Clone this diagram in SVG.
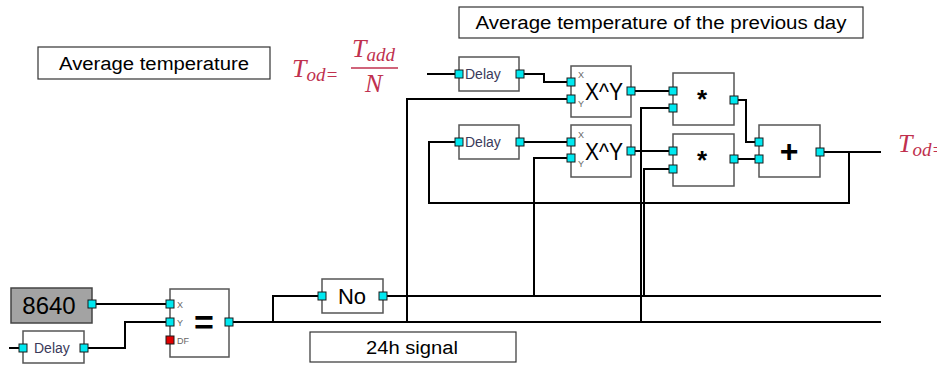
<svg xmlns="http://www.w3.org/2000/svg" width="937" height="367" viewBox="0 0 937 367">
<style>
.box{fill:#fff;stroke:#555;stroke-width:1.5}
.lbl{fill:#fff;stroke:#333;stroke-width:1.2}
.port{fill:#00e8f0;stroke:#1a1a1a;stroke-width:1}
.df{fill:#e00000;stroke:#1a1a1a;stroke-width:1}
.w{fill:none;stroke:#000;stroke-width:2}
.t{font-family:"Liberation Sans",Arial,sans-serif;fill:#000}
.dl{font-family:"Liberation Sans",Arial,sans-serif;font-size:14px;fill:#3a3a5a}
.sm{font-family:"Liberation Sans",Arial,sans-serif;font-size:9px;fill:#666}
.m{font-family:"Liberation Serif","Times New Roman",serif;font-style:italic;fill:#c0304e}
</style>
<rect width="937" height="367" fill="#fff"/>
<g id="connectors">
<path class="w" d="M427,74H455"/>
<path class="w" d="M524,74H544V82H567"/>
<path class="w" d="M407,322V99H567"/>
<path class="w" d="M635,91H669"/>
<path class="w" d="M669,108H641V322"/>
<path class="w" d="M738,100H746V142H755"/>
<path class="w" d="M849,152V203H429V142H455"/>
<path class="w" d="M524,142H567"/>
<path class="w" d="M534,296V158H567"/>
<path class="w" d="M635,151H669"/>
<path class="w" d="M669,169H644V296"/>
<path class="w" d="M738,159H755"/>
<path class="w" d="M824,152H881"/>
<path class="w" d="M96,304H166"/>
<path class="w" d="M9,348H19"/>
<path class="w" d="M88,348H125V322H166"/>
<path class="w" d="M233,322H881"/>
<path class="w" d="M273,322V296H318"/>
<path class="w" d="M387,296H881"/>
</g>
<g id="label-avg">
<rect class="lbl" x="38" y="47" width="232" height="32"/>
<text class="t" x="154" y="70" font-size="18" text-anchor="middle" textLength="190" lengthAdjust="spacingAndGlyphs">Average temperature</text>
</g>
<g id="label-prev">
<rect class="lbl" x="459" y="7" width="404" height="31"/>
<text class="t" x="661" y="29" font-size="18" text-anchor="middle" textLength="371" lengthAdjust="spacingAndGlyphs">Average temperature of the previous day</text>
</g>
<g id="label-24h">
<rect class="lbl" x="310" y="332" width="206" height="30"/>
<text class="t" x="412" y="354" font-size="18" text-anchor="middle" textLength="92" lengthAdjust="spacingAndGlyphs">24h signal</text>
</g>
<g id="formula">
<text class="m" x="292" y="77" font-size="26">T<tspan font-size="19" dy="4">od=</tspan></text>
<text class="m" x="352" y="57" font-size="26">T<tspan font-size="19" dy="4">add</tspan></text>
<line x1="351" y1="68" x2="398" y2="68" stroke="#c0304e" stroke-width="1.3"/>
<text class="m" x="365" y="92" font-size="26">N</text>
</g>
<g id="formula-out">
<text class="m" x="898" y="152" font-size="26">T<tspan font-size="19" dy="4">od=</tspan></text>
</g>
<g id="delay1">
<rect class="box" x="459" y="57" width="60" height="34"/>
<text class="dl" x="465" y="79">Delay</text>
<rect class="port" x="455" y="70" width="8" height="8"/>
<rect class="port" x="516" y="70" width="8" height="8"/>
</g>
<g id="pow1">
<rect class="box" x="571" y="66" width="60" height="51"/>
<text class="t" x="604" y="100" font-size="23" text-anchor="middle" textLength="38" lengthAdjust="spacingAndGlyphs">X^Y</text>
<text class="sm" x="578" y="78">X</text>
<text class="sm" x="578" y="107">Y</text>
<rect class="port" x="567" y="78" width="8" height="8"/>
<rect class="port" x="567" y="95" width="8" height="8"/>
<rect class="port" x="627" y="87" width="8" height="8"/>
</g>
<g id="mult1">
<rect class="box" x="673" y="73" width="61" height="52"/>
<text class="t" x="702" y="108" font-size="26" font-weight="bold" text-anchor="middle">*</text>
<rect class="port" x="669" y="87" width="8" height="8"/>
<rect class="port" x="669" y="104" width="8" height="8"/>
<rect class="port" x="730" y="96" width="8" height="8"/>
</g>
<g id="delay2">
<rect class="box" x="459" y="125" width="60" height="34"/>
<text class="dl" x="465" y="147">Delay</text>
<rect class="port" x="455" y="138" width="8" height="8"/>
<rect class="port" x="516" y="138" width="8" height="8"/>
</g>
<g id="pow2">
<rect class="box" x="571" y="125" width="60" height="52"/>
<text class="t" x="604" y="160" font-size="23" text-anchor="middle" textLength="38" lengthAdjust="spacingAndGlyphs">X^Y</text>
<text class="sm" x="578" y="138">X</text>
<text class="sm" x="578" y="167">Y</text>
<rect class="port" x="567" y="138" width="8" height="8"/>
<rect class="port" x="567" y="154" width="8" height="8"/>
<rect class="port" x="627" y="147" width="8" height="8"/>
</g>
<g id="mult2">
<rect class="box" x="673" y="134" width="61" height="52"/>
<text class="t" x="702" y="169" font-size="26" font-weight="bold" text-anchor="middle">*</text>
<rect class="port" x="669" y="147" width="8" height="8"/>
<rect class="port" x="669" y="165" width="8" height="8"/>
<rect class="port" x="730" y="155" width="8" height="8"/>
</g>
<g id="plus">
<rect class="box" x="759" y="125" width="61" height="52"/>
<text class="t" x="789" y="162" font-size="32" font-weight="bold" text-anchor="middle">+</text>
<rect class="port" x="755" y="138" width="8" height="8"/>
<rect class="port" x="755" y="155" width="8" height="8"/>
<rect class="port" x="816" y="148" width="8" height="8"/>
</g>
<g id="const8640">
<rect x="11" y="288" width="81" height="35" fill="#a3a3a3" stroke="#444" stroke-width="1.5"/>
<text class="t" x="49" y="314" font-size="24" text-anchor="middle" fill="#111">8640</text>
<rect class="port" x="88" y="300" width="8" height="8"/>
</g>
<g id="delay3">
<rect class="box" x="23" y="331" width="61" height="32"/>
<text class="dl" x="34" y="353">Delay</text>
<rect class="port" x="19" y="344" width="8" height="8"/>
<rect class="port" x="80" y="344" width="8" height="8"/>
</g>
<g id="equal">
<rect class="box" x="170" y="289" width="59" height="68"/>
<text class="t" x="204" y="334" font-size="34" font-weight="bold" text-anchor="middle">=</text>
<text class="sm" x="177" y="308">X</text>
<text class="sm" x="177" y="326">Y</text>
<text class="sm" x="177" y="344" font-size="7">DF</text>
<rect class="port" x="166" y="300" width="8" height="8"/>
<rect class="port" x="166" y="318" width="8" height="8"/>
<rect class="df" x="166" y="336" width="8" height="8"/>
<rect class="port" x="225" y="318" width="8" height="8"/>
</g>
<g id="not">
<rect class="box" x="322" y="279" width="61" height="34"/>
<text class="t" x="352" y="304" font-size="22" text-anchor="middle">No</text>
<rect class="port" x="318" y="292" width="8" height="8"/>
<rect class="port" x="379" y="292" width="8" height="8"/>
</g>
</svg>
